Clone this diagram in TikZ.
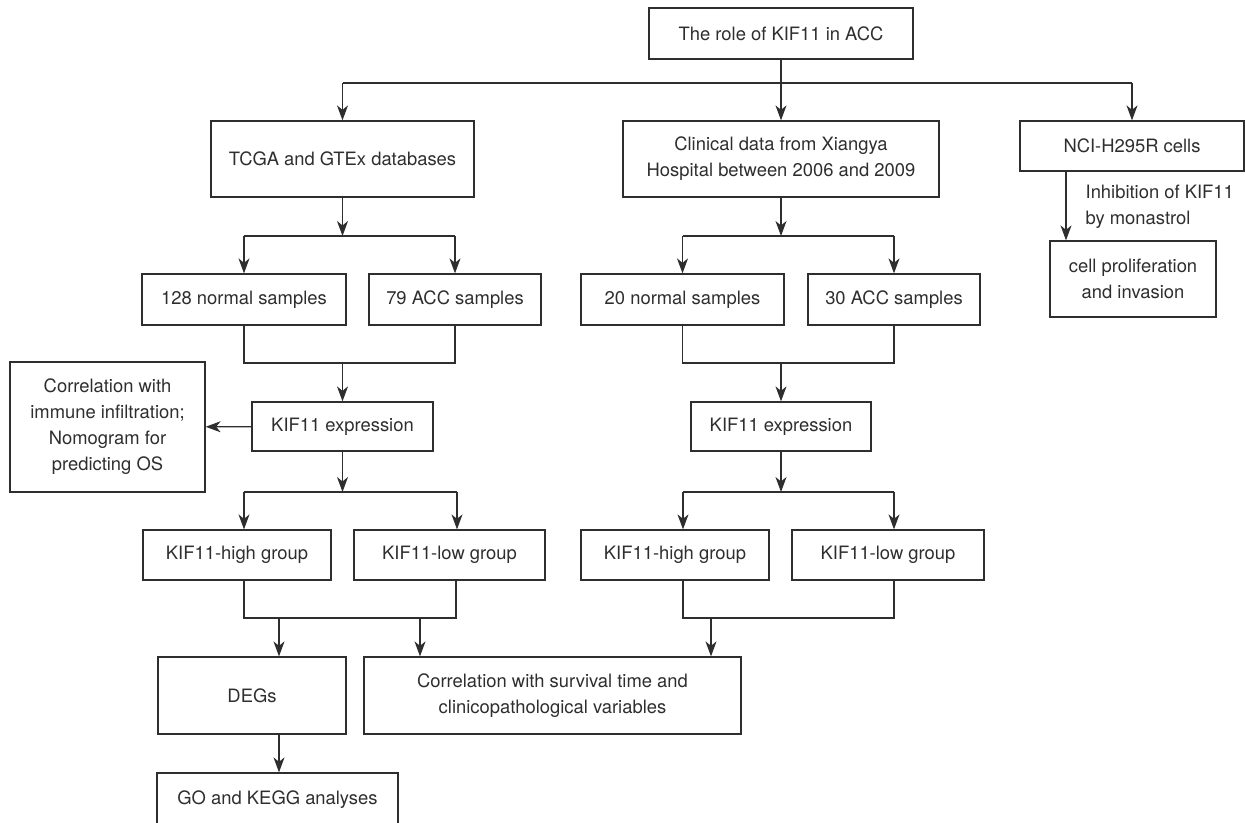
\documentclass[tikz,border=0pt]{standalone}
\usepackage{fontspec}
\setmainfont{TeX Gyre Heros}
\usetikzlibrary{arrows.meta}

\begin{document}
\begin{tikzpicture}[x=1pt, y=-1pt, >={Stealth[length=15pt, width=11pt, inset=4.5pt]},
    line width=1.25pt, color=black!82, font=\fontsize{18.4}{26}\selectfont,
    box/.style n args={2}{draw, minimum width=#1, minimum height=#2,
        inner sep=0pt, align=center}]

\useasboundingbox (0,0) rectangle (1245,822);

% ═══════════════════════════════════════════════════════
% TOP ROW
% ═══════════════════════════════════════════════════════

\node[box={264pt}{51pt}] (title) at (781,33.5) {The role of KIF11 in ACC};

\node[box={263pt}{76pt}] (tcga) at (342.5,159) {TCGA and GTEx databases};
\node[box={316pt}{76pt}] (clin) at (781,159)
    {Clinical data from Xiangya\\Hospital between 2006 and 2009};
\node[box={224pt}{50pt}] (nci) at (1132,146) {NCI-H295R cells};

% ═══════════════════════════════════════════════════════
% SAMPLES AND EXPRESSION
% ═══════════════════════════════════════════════════════

\node[box={204pt}{51pt}] (norA) at (244,299.5) {128 normal samples};
\node[box={172pt}{51pt}] (accA) at (455,299.5) {79 ACC samples};
\node[box={203pt}{51pt}] (norB) at (682.5,299.5) {20 normal samples};
\node[box={172pt}{51pt}] (accB) at (894,299.5) {30 ACC samples};

\node[box={181pt}{49pt}] (kifA) at (342.5,426.5) {KIF11 expression};
\node[box={180pt}{49pt}] (kifB) at (781,426.5) {KIF11 expression};

\node[box={195pt}{130pt}] (immune) at (107.5,427)
    {Correlation with\\immune infiltration;\\Nomogram for\\predicting OS};

% cell line branch
\node[box={166pt}{76pt}] (prolif) at (1133,279) {cell proliferation\\and invasion};
\node[align=left, anchor=west, inner sep=0pt] (inhib) at (1085,207)
    {Inhibition of KIF11\\by monastrol};

% ═══════════════════════════════════════════════════════
% GROUPS AND OUTCOMES
% ═══════════════════════════════════════════════════════

\node[box={188pt}{50pt}] (hiA) at (237,555) {KIF11-high group};
\node[box={191pt}{50pt}] (loA) at (449.5,555) {KIF11-low group};
\node[box={188pt}{50pt}] (hiB) at (675,555) {KIF11-high group};
\node[box={192pt}{50pt}] (loB) at (888,555) {KIF11-low group};

\node[box={188pt}{77pt}] (degs) at (252,695.5) {DEGs};
\node[box={377pt}{77pt}] (corr) at (552.5,695.5)
    {Correlation with survival time and\\clinicopathological variables};
% bottom edge falls just below the page
\node[box={241pt}{54pt}] (go) at (277.5,800) {GO and KEGG analyses};

% ═══════════════════════════════════════════════════════
% BRANCH POINTS
% ═══════════════════════════════════════════════════════

\coordinate (top)  at (781,83);
\coordinate (splA) at (342.5,236);
\coordinate (splB) at (781,236);
\coordinate (mrgA) at (342.5,363);
\coordinate (mrgB) at (781,363);
\coordinate (gA1)  at (244,492);
\coordinate (gA2)  at (457,492);
\coordinate (gB1)  at (683,492);
\coordinate (gB2)  at (894,492);
\coordinate (jA1)  at (244,618);
\coordinate (jA2)  at (456,618);
\coordinate (jB1)  at (683,618);
\coordinate (jB2)  at (894,618);
\coordinate (dA)   at (279,618);
\coordinate (cA)   at (420,618);
\coordinate (cB)   at (711,618);
\coordinate (drop) at (1066,200);

% ═══════════════════════════════════════════════════════
% CONNECTORS
% ═══════════════════════════════════════════════════════

% title to the three sources
\draw (tcga.north |- top) -- (nci.north |- top);
\draw[->] (title) -- (clin);
\draw[->] (tcga.north |- top) -- (tcga);
\draw[->] (nci.north |- top) -- (nci);

% sources to samples
\draw[->] (tcga) -- (splA);
\draw (norA |- splA) -- (accA |- splA);
\draw[->] (norA |- splA) -- (norA);
\draw[->] (accA |- splA) -- (accA);

\draw[->] (clin) -- (splB);
\draw (norB |- splB) -- (accB |- splB);
\draw[->] (norB |- splB) -- (norB);
\draw[->] (accB |- splB) -- (accB);

% samples to expression
\draw (norA.south) |- (mrgA) -| (accA.south);
\draw[->] (mrgA) -- (kifA);
\draw (norB.south) |- (mrgB) -| (accB.south);
\draw[->] (mrgB) -- (kifB);

\draw[->] (kifA) -- (immune);

% expression to groups
\draw[->] (kifA) -- (kifA |- gA1);
\draw (gA1) -- (gA2);
\draw[->] (gA1) -- (gA1 |- hiA.north);
\draw[->] (gA2) -- (gA2 |- loA.north);

\draw[->] (kifB) -- (kifB |- gB1);
\draw (gB1) -- (gB2);
\draw[->] (gB1) -- (gB1 |- hiB.north);
\draw[->] (gB2) -- (gB2 |- loB.north);

% groups to outcomes
\draw (jA1 |- hiA.south) -- (jA1) -- (jA2) -- (jA2 |- loA.south);
\draw[->] (dA) -- (dA |- degs.north);
\draw[->] (cA) -- (cA |- corr.north);

\draw (jB1 |- hiB.south) -- (jB1) -- (jB2) -- (jB2 |- loB.south);
\draw[->] (cB) -- (cB |- corr.north);

\draw[->] (dA |- degs.south) -- (dA |- go.north);

% monastrol
\draw[->] (drop |- nci.south) -- (drop |- prolif.north);

\end{tikzpicture}
\end{document}
